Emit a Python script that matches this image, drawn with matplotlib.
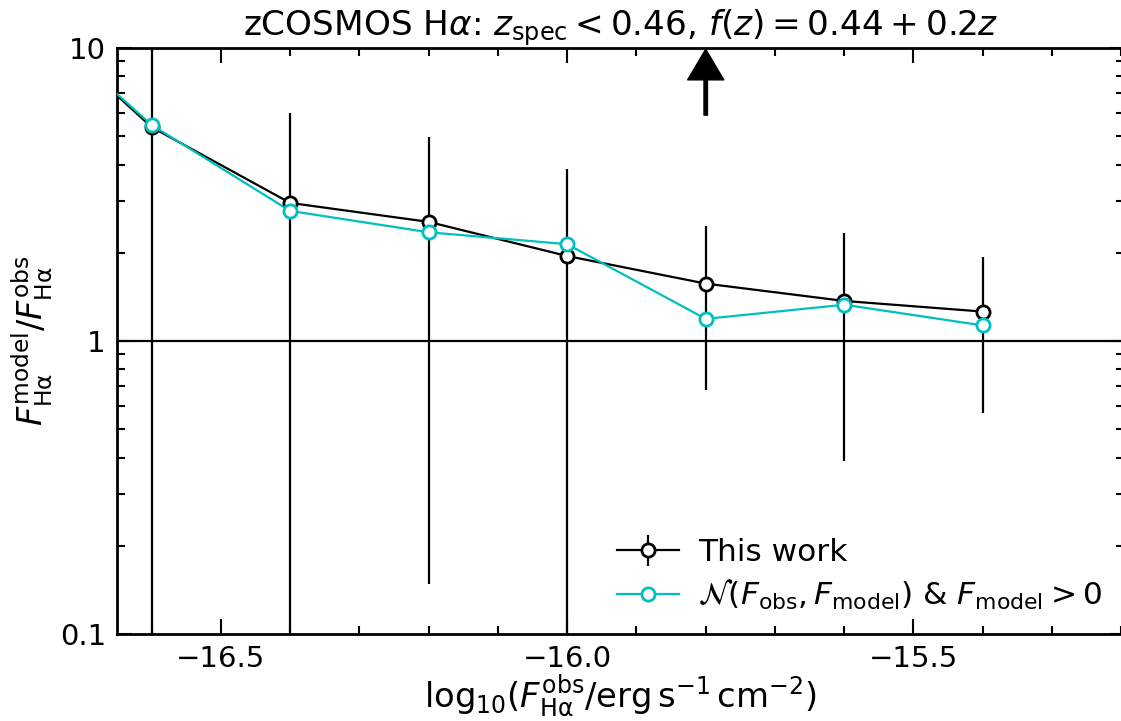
import numpy as np
import matplotlib.pyplot as plt
from matplotlib.ticker import FixedLocator, FuncFormatter, LogLocator, MultipleLocator, NullFormatter

# log10 flux bins
log_flux = [-16.8, -16.6, -16.4, -16.2, -16.0, -15.8, -15.6, -15.4]

# ratio F_model / F_obs, this work, with 1-sigma range (lower/upper bounds)
ratio_this = [14.5, 5.37, 2.96, 2.55, 1.95, 1.57, 1.37, 1.26]
ratio_lo = [14.5, 0.0, 0.0, 0.148, 0.0, 0.68, 0.39, 0.57]
ratio_hi = [14.5, 20.0, 5.98, 4.96, 3.85, 2.47, 2.33, 1.93]

# ratio from sampling N(F_obs, F_model) with F_model > 0
ratio_norm = [14.5, 5.46, 2.78, 2.35, 2.14, 1.19, 1.33, 1.13]

# arrow marker above the -15.8 bin
arrow_x = -15.8
arrow_from, arrow_to = 5.9, 9.9

plt.rcParams['font.size'] = 21
plt.rcParams['mathtext.fontset'] = 'dejavusans'

fig = plt.figure(figsize=(11.21, 7.21), dpi=100)
ax = fig.add_axes([0.1044, 0.1207, 0.8983, 0.8127])

y = np.array(ratio_this)
err = [y - np.array(ratio_lo), np.array(ratio_hi) - y]

h1 = ax.errorbar(log_flux, ratio_this, yerr=err, color='k', lw=1.6, elinewidth=1.6,
                 marker='o', ms=9.5, mfc='w', mec='k', mew=2, label='This work', zorder=3)
h2, = ax.plot(log_flux, ratio_norm, color='c', lw=1.6, marker='o', ms=9.5, mfc='w', mec='c', mew=2,
              label=r'$\mathcal{N}(F_{\rm obs}, F_{\rm model})$ & $F_{\rm model} > 0$', zorder=4)

ax.axhline(1, color='k', lw=1.6, zorder=2)

ax.annotate('', xy=(arrow_x, arrow_to), xytext=(arrow_x, arrow_from),
            arrowprops=dict(facecolor='k', edgecolor='k', width=2.5, headwidth=26, headlength=22),
            annotation_clip=False)

ax.set_yscale('log')
ax.set_xlim(-16.65, -15.196)
ax.set_ylim(0.1, 10)

ax.xaxis.set_major_locator(FixedLocator([-16.5, -16.0, -15.5]))
ax.xaxis.set_minor_locator(MultipleLocator(0.1))
ax.xaxis.set_major_formatter(FuncFormatter(lambda v, p: f'{v:.1f}'.replace('-', '\u2212')))
ax.yaxis.set_major_locator(FixedLocator([0.1, 1, 10]))
ax.yaxis.set_major_formatter(FuncFormatter(lambda v, p: f'{v:g}'))
ax.yaxis.set_minor_locator(LogLocator(base=10, subs=np.arange(2, 10)))
ax.yaxis.set_minor_formatter(NullFormatter())

ax.tick_params(which='both', direction='in', top=True, right=True, width=1.5)
ax.tick_params(which='major', length=11, pad=8)
ax.tick_params(which='minor', length=6)
for s in ax.spines.values():
    s.set_linewidth(2)

ax.set_xlabel(r'${\rm log}_{10}(F_{\rm H\alpha}^{\rm obs}/{\rm erg\,s^{-1}\,cm^{-2}})$',
              fontsize=24.3, labelpad=0)
ax.set_ylabel(r'$F_{\rm H\alpha}^{\rm model}/F_{\rm H\alpha}^{\rm obs}$', fontsize=24, labelpad=4)
ax.set_title(r'zCOSMOS H$\alpha$: $z_{\rm spec} < 0.46$, $f(z) = 0.44 + 0.2z$', fontsize=24.7, pad=5)

ax.legend([h1, h2], [h1.get_label(), h2.get_label()], loc='lower right', frameon=False,
          fontsize=22.5, handlelength=2.0, handletextpad=0.6, labelspacing=0.34,
          borderaxespad=0.3)

fig.savefig('out.png', dpi=100)
